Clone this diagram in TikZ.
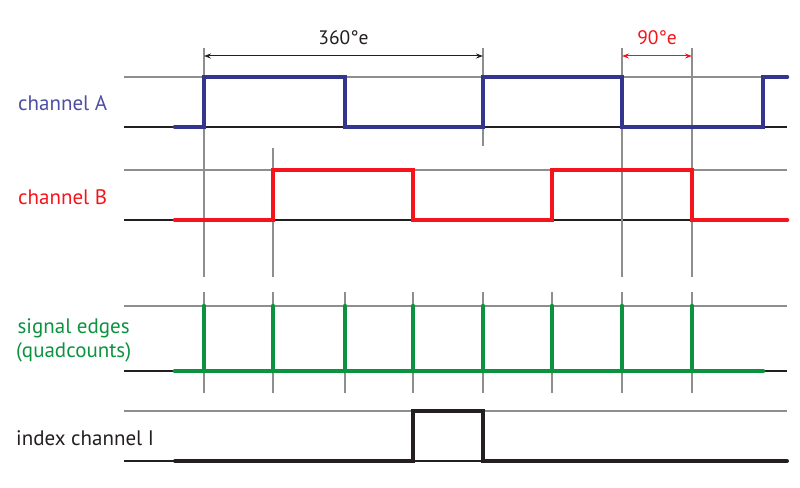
\documentclass[tikz,border=0pt]{standalone}
\usepackage{fontspec}
\setmainfont{PT Sans}
\usetikzlibrary{arrows.meta}
\definecolor{ChanBlue}{HTML}{33358F}
\definecolor{ChanBlueText}{HTML}{4D4DA3}
\definecolor{ChanRed}{HTML}{F5141B}
\definecolor{EdgeGreen}{HTML}{0C9340}
\definecolor{IdxBlack}{HTML}{231F20}
\definecolor{GuideGray}{HTML}{8E8E8E}

\tikzset{
  guide/.style={GuideGray, line width=1.1pt},
  baseline/.style={IdxBlack, line width=2.8pt},
  signal/.style={line width=4.6pt, line cap=round},
  dimarrow/.style={line width=1pt, {Stealth[length=7pt,width=5pt]}-{Stealth[length=7pt,width=5pt]}},
  dimlabel/.style={above=7pt, font=\fontsize{19.5}{22}\selectfont},
  label/.style={font=\fontsize{21}{24}\selectfont, anchor=west, align=center, inner sep=0pt}
}

\begin{document}
\begin{tikzpicture}[x=1pt,y=-1pt]
  \useasboundingbox (0,0) rectangle (800,487);

  % reference levels
  \foreach \y in {77,170,306,411}
    \draw[guide] (124,\y) -- (787,\y);
  \foreach \y in {127,220,371,461}
    \draw[baseline] (124,\y) -- (787,\y);

  % vertical guides
  \draw[guide] (204,48) -- (204,277);
  \draw[guide] (273,148) -- (273,277);
  \draw[guide] (483,48) -- (483,146);
  \draw[guide] (622,48) -- (622,277);
  \draw[guide] (692,48) -- (692,277);
  \foreach \x in {204,273,345,413,483,552,622,692}
    \draw[guide] (\x,292) -- (\x,393);

  % channel A
  \draw[signal, ChanBlue] (175,127) -- (204,127) -- (204,77) -- (345,77) -- (345,127)
    -- (483,127) -- (483,77) -- (622,77) -- (622,127) -- (763,127) -- (763,77) -- (787,77);
  % channel B
  \draw[signal, ChanRed] (175,220) -- (273,220) -- (273,170) -- (413,170) -- (413,220)
    -- (552,220) -- (552,170) -- (692,170) -- (692,220) -- (787,220);
  % quadcounts
  \draw[signal, EdgeGreen] (175,371) -- (763,371);
  \foreach \x in {204,273,345,413,483,552,622,692}
    \draw[signal, EdgeGreen] (\x,371) -- (\x,306);
  % index
  \draw[line width=4pt, IdxBlack, line cap=round] (175,461) -- (413,461) -- (413,411)
    -- (483,411) -- (483,461) -- (787,461);

  % period and phase
  \coordinate (periodL) at (204,56);
  \coordinate (periodR) at (483,56);
  \coordinate (phaseL) at (622,56);
  \coordinate (phaseR) at (692,56);
  \draw[dimarrow, IdxBlack] (periodL) -- node[dimlabel] (period) {360°e} (periodR);
  \draw[dimarrow, ChanRed] (phaseL) -- node[dimlabel, text=ChanRed] (phase) {90°e} (phaseR);

  % channel names
  \node[label, text=ChanBlueText] (nameA) at (18,103) {channel A};
  \node[label, text=ChanRed] (nameB) at (18,197) {channel B};
  \node[label, text=EdgeGreen] (nameQ) at (16,340) {signal edges\\(quadcounts)};
  \node[label, text=IdxBlack] (nameI) at (16,438) {index channel I};
\end{tikzpicture}
\end{document}
